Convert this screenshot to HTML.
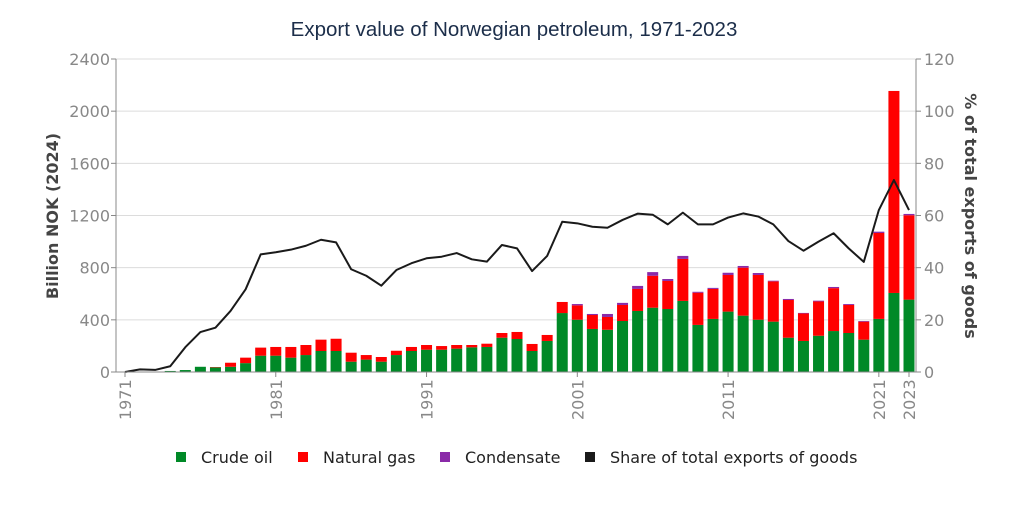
<!DOCTYPE html>
<html><head><meta charset="utf-8"><style>
body{margin:0;background:#fff;}
svg text{font-family:"DejaVu Sans","Liberation Sans",sans-serif;}
</style></head><body>
<svg id="c" width="1024" height="510" xmlns="http://www.w3.org/2000/svg">
<text x="514" y="36" text-anchor="middle" font-size="20.5" fill="#1c2e4a" style="font-family:'Liberation Sans',sans-serif">Export value of Norwegian petroleum, 1971-2023</text>
<g id="grid"></g>
<g id="bars"></g>
<g id="axes"></g>
<text transform="translate(58,216) rotate(-90)" text-anchor="middle" font-size="16" font-weight="bold" fill="#444">Billion NOK (2024)</text>
<text transform="translate(965,216) rotate(90)" text-anchor="middle" font-size="16" font-weight="bold" fill="#444">% of total exports of goods</text>
<g font-size="16" fill="#222">
<g><rect x="176" y="452" width="10" height="10" fill="#008927"/><text x="201" y="463">Crude oil</text></g>
<g><rect x="298" y="452" width="10" height="10" fill="#ff0000"/><text x="323" y="463">Natural gas</text></g>
<g><rect x="440" y="452" width="10" height="10" fill="#8a2aa8"/><text x="465" y="463">Condensate</text></g>
<g><rect x="585" y="452" width="10" height="10" fill="#1a1a1a"/><text x="610" y="463">Share of total exports of goods</text></g>
</g>
</svg>
<script>
const years=[];for(let y=1971;y<=2023;y++)years.push(y);
const totals=[0,0,0,8,15,40,38,71,110,187,192,192,207,248,255,148,130,115,163,192,207,199,207,207,217,299,307,215,284,537,511,437,422,514,637,738,698,867,608,637,744,800,744,695,552,449,541,643,514,386,1066,2155,1202];
const crude=[0,0,0,8,15,40,35,40,68,125,125,110,130,161,161,79,95,79,130,161,171,171,179,189,192,263,253,161,238,452,401,330,324,391,468,493,483,545,361,407,463,432,401,386,263,238,278,314,299,248,407,606,555];
const condensate=[0,0,0,0,0,0,0,0,0,0,0,0,0,0,0,0,0,0,0,0,0,0,0,0,0,0,0,0,0,0,10,8,23,16,23,28,15,23,7,8,17,13,15,5,8,4,6,9,7,5,10,0,10];
const share=[0,1,0.8,2.2,9.5,15.3,17,23.4,31.7,45.1,45.9,46.9,48.4,50.7,49.7,39.4,36.9,33.1,39.1,41.7,43.6,44.2,45.6,43.2,42.3,48.7,47.4,38.7,44.5,57.6,57,55.7,55.3,58.3,60.7,60.3,56.6,61.1,56.6,56.6,59.2,60.8,59.6,56.6,50.2,46.5,50,53.2,47.4,42.2,62.1,73.6,62.1];
const leftTicks=[0,400,800,1200,1600,2000,2400];
const rightTicks=[0,20,40,60,80,100,120];
const xTicks=[1971,1981,1991,2001,2011,2021,2023];
const NS='http://www.w3.org/2000/svg';
const X0=116,X1=916,T=59,B=372;
const xs=y=>125+(y-1971)*(909-125)/52;
const yl=v=>B-v/2400*(B-T);
const yr=v=>B-v/120*(B-T);
function mk(tag,a,p){const e=document.createElementNS(NS,tag);for(const k in a)e.setAttribute(k,a[k]);p.appendChild(e);return e;}
const grid=document.getElementById('grid'),bars=document.getElementById('bars'),axes=document.getElementById('axes');
leftTicks.forEach((v,i)=>{
 const l=mk('line',{x1:X0,x2:X1,y1:yl(v),y2:yl(v),stroke:'#dcdcdc','stroke-width':1},grid);
 
 
 mk('line',{x1:X0-5,x2:X0,y1:yl(v),y2:yl(v),stroke:'#888'},axes);
 const t=mk('text',{x:X0-6,y:yl(v)+6,'text-anchor':'end','font-size':16,fill:'#888'},axes);t.textContent=v;
 
 
 const r=rightTicks[i];
 mk('line',{x1:X1,x2:X1+5,y1:yr(r),y2:yr(r),stroke:'#888'},axes);
 const t2=mk('text',{x:X1+8,y:yr(r)+6,'font-size':16,fill:'#888'},axes);t2.textContent=r;
 
 
});
mk('line',{x1:X0,x2:X0,y1:T,y2:B,stroke:'#888'},axes);
mk('line',{x1:X1,x2:X1,y1:T,y2:B,stroke:'#888'},axes);
mk('line',{x1:X0,x2:X1,y1:B,y2:B,stroke:'#888'},axes);
xTicks.forEach(y=>{
 mk('line',{x1:xs(y),x2:xs(y),y1:B,y2:B+5,stroke:'#888'},axes);
 const t=mk('text',{transform:`translate(${xs(y)+6},${B+48}) rotate(-90)`,'font-size':16,fill:'#888'},axes);t.textContent=y;
 
 
});
const W=11;
years.forEach((y,i)=>{
 const gas=totals[i]-crude[i];
 const segs=[[0,crude[i],'#008927','bar-crude'],[crude[i],crude[i]+gas,'#ff0000','bar-gas'],[totals[i],totals[i]+condensate[i],'#8a2aa8','bar-condensate']];
 segs.forEach(s=>{if(s[1]<=s[0])return;
  const r=mk('rect',{x:xs(y)-W/2,y:yl(s[1]),width:W,height:yl(s[0])-yl(s[1]),fill:s[2]},bars);
  
  
 });
});
const line=mk('polyline',{points:years.map((y,i)=>xs(y)+','+yr(share[i])).join(' '),fill:'none',stroke:'#1a1a1a','stroke-width':2,'stroke-linejoin':'round'},bars);


</script>
</body></html>
